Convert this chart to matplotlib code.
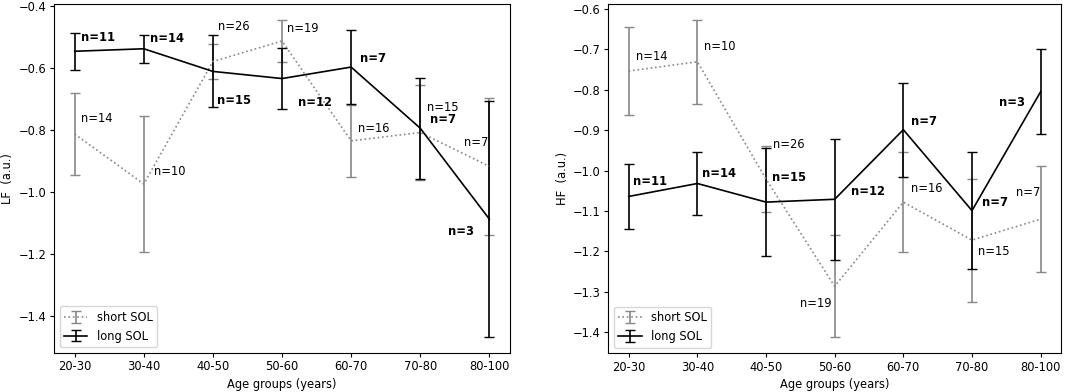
import matplotlib.pyplot as plt
import numpy as np

plt.rcParams['font.size'] = 8.3
plt.rcParams['xtick.major.size'] = 2.9
plt.rcParams['ytick.major.size'] = 2.9
plt.rcParams['xtick.major.pad'] = 2.5
plt.rcParams['ytick.major.pad'] = 2.5
plt.rcParams['axes.labelpad'] = 3.0

groups = ['20-30', '30-40', '40-50', '50-60', '60-70', '70-80', '80-100']

# LF panel
lf_short_mean = [-0.814, -0.975, -0.580, -0.514, -0.836, -0.809, -0.918]
lf_short_err = [0.132, 0.220, 0.058, 0.068, 0.116, 0.154, 0.220]
lf_long_mean = [-0.547, -0.539, -0.612, -0.635, -0.598, -0.795, -1.088]
lf_long_err = [0.059, 0.046, 0.116, 0.097, 0.118, 0.163, 0.380]

# HF panel
hf_short_mean = [-0.754, -0.731, -1.021, -1.286, -1.078, -1.172, -1.120]
hf_short_err = [0.109, 0.104, 0.081, 0.126, 0.124, 0.152, 0.132]
hf_long_mean = [-1.064, -1.032, -1.078, -1.071, -0.899, -1.099, -0.805]
hf_long_err = [0.080, 0.077, 0.133, 0.150, 0.116, 0.145, 0.105]

n_short = [14, 10, 26, 19, 16, 15, 7]
n_long = [11, 14, 15, 12, 7, 7, 3]

x = np.arange(len(groups))

fig = plt.figure(figsize=(10.84, 3.92), dpi=100)
ax1 = fig.add_axes([0.0498, 0.0995, 0.4207, 0.890])
ax2 = fig.add_axes([0.561, 0.0985, 0.418, 0.8905])


def draw(ax, sm, se, lm, le):
    ax.errorbar(x, sm, yerr=se, color='#888888', ecolor='#888888', linestyle=':',
                linewidth=1.2, elinewidth=1.2, capsize=3.5, label='short SOL')
    ax.errorbar(x, lm, yerr=le, color='black', linestyle='-',
                linewidth=1.2, elinewidth=1.2, capsize=3.5, label='long SOL')
    ax.set_xticks(x)
    ax.set_xticklabels(groups)
    ax.set_xlim(-0.3, 6.3)
    ax.set_xlabel('Age groups (years)')
    ax.legend(loc='lower left')


draw(ax1, lf_short_mean, lf_short_err, lf_long_mean, lf_long_err)
ax1.set_ylim(-1.52, -0.395)
ax1.set_yticks([-1.4, -1.2, -1.0, -0.8, -0.6, -0.4])
ax1.set_ylabel('LF  (a.u.)')

draw(ax2, hf_short_mean, hf_short_err, hf_long_mean, hf_long_err)
ax2.set_ylim(-1.452, -0.589)
ax2.set_ylabel('HF  (a.u.)')

# label positions (x, y, horizontal alignment)
lf_short_pos = [(0.09, -0.765, 'left'), (1.15, -0.935, 'left'), (2.08, -0.468, 'left'),
                (3.07, -0.474, 'left'), (4.10, -0.797, 'left'), (5.10, -0.729, 'left'),
                (5.64, -0.842, 'left')]
lf_long_pos = [(0.09, -0.502, 'left'), (1.09, -0.506, 'left'), (2.06, -0.706, 'left'),
               (3.23, -0.713, 'left'), (4.13, -0.571, 'left'), (5.14, -0.768, 'left'),
               (5.78, -1.128, 'right')]
hf_short_pos = [(0.10, -0.717, 'left'), (1.09, -0.693, 'left'), (2.10, -0.936, 'left'),
                (2.95, -1.329, 'right'), (4.11, -1.045, 'left'), (5.09, -1.200, 'left'),
                (5.64, -1.055, 'left')]
hf_long_pos = [(0.06, -1.027, 'left'), (1.07, -1.008, 'left'), (2.08, -1.018, 'left'),
               (3.24, -1.051, 'left'), (4.11, -0.878, 'left'), (5.14, -1.080, 'left'),
               (5.77, -0.831, 'right')]

for ax, sp, lp in [(ax1, lf_short_pos, lf_long_pos), (ax2, hf_short_pos, hf_long_pos)]:
    for n, (tx, ty, ha) in zip(n_short, sp):
        ax.text(tx, ty, 'n=%d' % n, ha=ha, va='center')
    for n, (tx, ty, ha) in zip(n_long, lp):
        ax.text(tx, ty, 'n=%d' % n, ha=ha, va='center', fontweight='bold')

plt.savefig('out.png', dpi=100)
